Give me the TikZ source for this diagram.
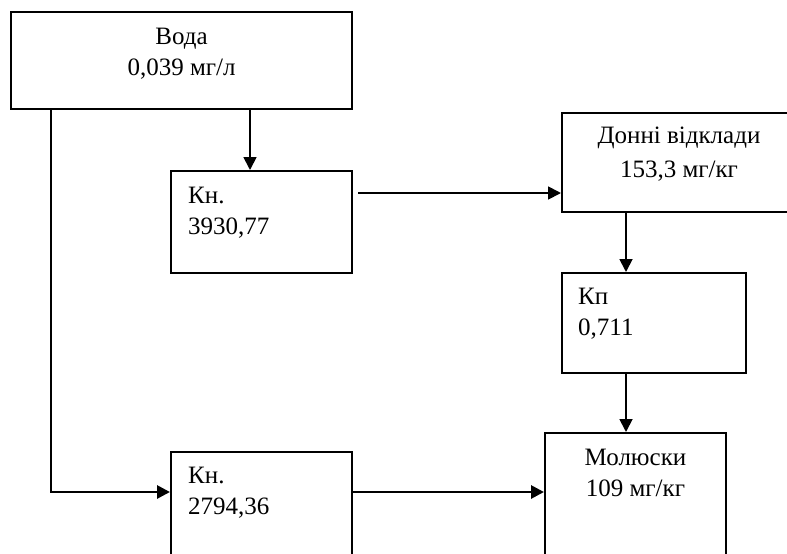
\documentclass[tikz,border=0pt]{standalone}
\usepackage{fontspec}
\setmainfont{Liberation Serif}
\usetikzlibrary{arrows.meta}

\tikzset{
  blok/.style={draw, line width=2pt, rectangle, inner sep=0pt},
  txt/.style={inner sep=0pt, align=left, font=\fontsize{25}{31}\selectfont},
  txtc/.style={txt, align=center, anchor=north},
  strilka/.style={line width=1.8pt, -{Triangle[length=13pt,width=13pt]}},
  tovsta/.style={strilka, line width=2.8pt}
}

\begin{document}
\begin{tikzpicture}[x=1pt,y=-1pt]

      \clip (0,0) rectangle (787,554);
      \fill[white] (0,0) rectangle (787,554);

      % boxes
      \node[blok, minimum width=341, minimum height=97]  (voda)  at (181.5,60.5) {};
      \node[blok, minimum width=181, minimum height=102] (kn1)   at (261.5,222)  {};
      \node[blok, minimum width=234, minimum height=99]  (donni) at (679,162.5)  {};
      \node[blok, minimum width=184, minimum height=100] (kp)    at (654,323)    {};
      \node[blok, minimum width=181, minimum height=166] (mol)   at (635.5,516)  {};
      \node[blok, minimum width=181, minimum height=150] (kn2)   at (261.5,527)  {};

      % texts
      \node[txtc] (vodaT)  at (181.5,28) {Вода\\0,039 мг/л};
      \node[txt, anchor=north west] (kn1T) at (188,187) {Кн.\\3930,77};
      \node[txtc, font=\fontsize{25}{34}\selectfont] (donniT) at (679,127) {Донні відклади\\153,3 мг/кг};
      \node[txt, anchor=north west] (kpT)  at (578,288) {Кп\\0,711};
      \node[txtc] (molT)   at (635.5,449) {Молюски\\109 мг/кг};
      \node[txt, anchor=north west] (kn2T) at (188,467) {Кн.\\2794,36};

      % helper points for the connectors
      \coordinate (x1) at (250,0);
      \coordinate (x2) at (51,492);
      \coordinate (x3) at (0,193);
      \coordinate (x4) at (626,0);

      \draw[strilka] (voda.south -| x1) -- (kn1.north -| x1);
      \draw[strilka] ([xshift=5pt]kn1.east |- x3) -- (donni.west |- x3);
      \draw[strilka] (donni.south -| x4) -- (kp.north -| x4);
      \draw[strilka] (kp.south -| x4) -- (mol.north -| x4);
      \draw[tovsta] (voda.south -| x2) |- (kn2.west |- x2);
      \draw[tovsta] (kn2.east |- x2) -- (mol.west |- x2);

    \end{tikzpicture}
\end{document}
